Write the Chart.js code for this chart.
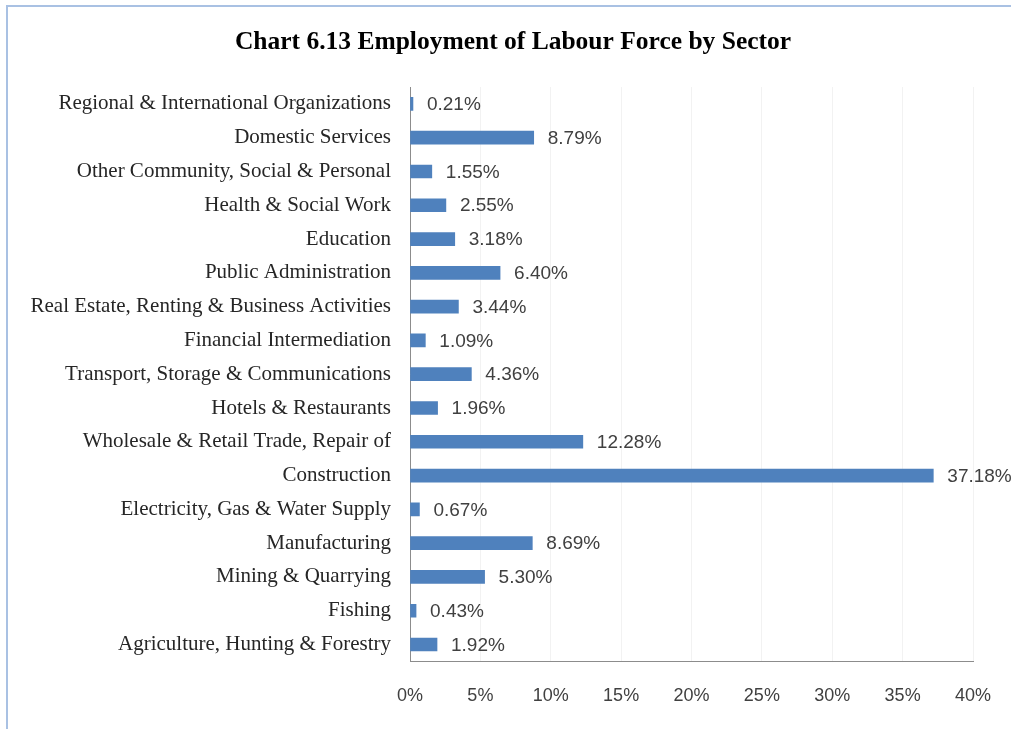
<!DOCTYPE html>
<html>
<head>
<meta charset="utf-8">
<script src="https://cdn.jsdelivr.net/npm/chart.js@4"></script>
<style>
  html, body { margin: 0; padding: 0; background: #fff; }
  #frame { position: absolute; left: 6px; top: 5px; width: 1100px; height: 800px; border-left: 2px solid #a9c1e3; border-top: 2px solid #a9c1e3; }
  #wrap { position: absolute; left: 0; top: 0; width: 1011px; height: 729px; }
</style>
</head>
<body>
<div id="frame"></div>
<div id="wrap"><canvas id="sector-chart" width="1011" height="729"></canvas></div>
<script>
// Sectors, top to bottom as shown
const sectors = [
  "Regional & International Organizations",
  "Domestic Services",
  "Other Community, Social & Personal",
  "Health & Social Work",
  "Education",
  "Public Administration",
  "Real Estate, Renting & Business Activities",
  "Financial Intermediation",
  "Transport, Storage & Communications",
  "Hotels & Restaurants",
  "Wholesale & Retail Trade, Repair of",
  "Construction",
  "Electricity, Gas & Water Supply",
  "Manufacturing",
  "Mining & Quarrying",
  "Fishing",
  "Agriculture, Hunting & Forestry",
];
const sharePct = [0.21, 8.79, 1.55, 2.55, 3.18, 6.40, 3.44, 1.09, 4.36, 1.96, 12.28, 37.18, 0.67, 8.69, 5.30, 0.43, 1.92];
const xTicks = [0, 5, 10, 15, 20, 25, 30, 35, 40];
const chartTitle = "Chart 6.13 Employment of Labour Force by Sector";

const labelFont = "Liberation Sans";
const catFont = "Liberation Serif";

// title, centred over the framed area rather than the canvas
const frameTitle = {
  id: "frameTitle",
  afterDraw(chart) {
    const ctx = chart.ctx;
    ctx.save();
    ctx.font = "bold 25.5px '" + catFont + "'";
    ctx.fillStyle = "#000";
    ctx.textAlign = "center";
    ctx.textBaseline = "middle";
    ctx.fillText(chartTitle, 513, 42);
    ctx.restore();
  },
};

// value labels after each bar
const barValueLabels = {
  id: "barValueLabels",
  afterDatasetsDraw(chart) {
    const ctx = chart.ctx;
    const meta = chart.getDatasetMeta(0);
    ctx.save();
    ctx.font = "19px '" + labelFont + "'";
    ctx.fillStyle = "#404040";
    ctx.textBaseline = "middle";
    ctx.textAlign = "left";
    meta.data.forEach((bar, i) => {
      ctx.fillText(sharePct[i].toFixed(2) + "%", bar.x + 14, bar.y + 1);
    });
    ctx.restore();
  },
};

const ctx = document.getElementById("sector-chart").getContext("2d");
new Chart(ctx, {
  type: "bar",
  data: {
    labels: sectors,
    datasets: [{
      label: "Share of employment",
      data: sharePct,
      backgroundColor: "#4f81bd",
      barThickness: 13,
    }],
  },
  options: {
    indexAxis: "y",
    responsive: false,
    animation: false,
    layout: { padding: { left: 0, right: 38, top: 87, bottom: -2 } },
    plugins: {
      legend: { display: false },
      tooltip: { enabled: false },
      title: { display: false },
    },
    scales: {
      x: {
        min: 0,
        max: 40,
        afterBuildTicks(scale) {
          scale.ticks = xTicks.map(v => ({ value: v }));
        },
        afterFit(scale) { scale.paddingRight = 0; },
        ticks: {
          callback: v => v + "%",
          color: "#404040",
          font: { family: labelFont, size: 18 },
          padding: 24,
          maxRotation: 0,
        },
        grid: { color: "rgba(0,0,0,0.05)", drawTicks: false },
        border: { color: "#8c8c8c", width: 1 },
      },
      y: {
        afterFit(scale) { scale.width = 410; },
        ticks: {
          color: "#262626",
          font: { family: catFont, size: 21 },
          padding: 19,
          autoSkip: false,
        },
        grid: { display: false, drawTicks: false },
        border: { color: "#8c8c8c", width: 1 },
      },
    },
  },
  plugins: [barValueLabels, frameTitle],
});
</script>
</body>
</html>
